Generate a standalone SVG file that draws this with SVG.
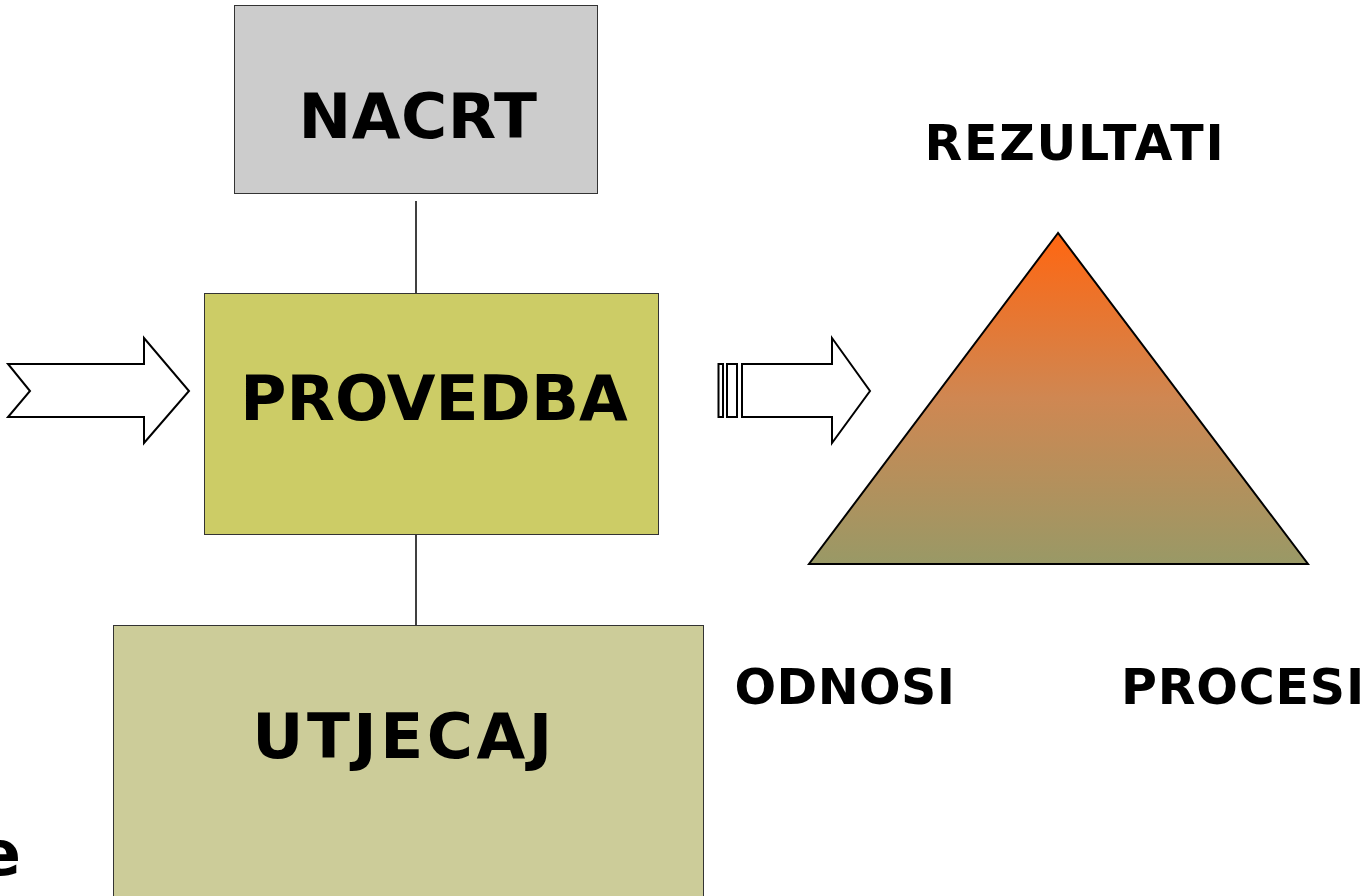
<svg xmlns="http://www.w3.org/2000/svg" width="1371" height="896" viewBox="0 0 1371 896">
<style>
.box{stroke:#333;stroke-width:1}
.lbl{font-family:"DejaVu Sans",Verdana,sans-serif;font-weight:bold;fill:#000}
.big{font-size:63px;text-anchor:middle}
.mid{font-size:49px;text-anchor:middle}
.arr{fill:#fff;stroke:#000;stroke-width:2;stroke-linejoin:miter}
.conn{stroke:#000;stroke-width:1.5;fill:none}
</style>
<defs>
<linearGradient id="tg" x1="0" y1="0" x2="0" y2="1">
<stop offset="0" stop-color="#FF6611"/>
<stop offset="0.5" stop-color="#CF8752"/>
<stop offset="1" stop-color="#999966"/>
</linearGradient>
</defs>
<rect width="1371" height="896" fill="#fff"/>
<g id="connectors">
<line class="conn" x1="416" y1="201" x2="416" y2="293"/>
<line class="conn" x1="416" y1="534" x2="416" y2="625"/>
<polygon id="arrow-in" class="arr" points="8,364 144,364 144,338 189,391 144,443 144,417 8,417 30,391"/>
<g id="arrow-out">
<rect class="arr" x="718.5" y="364" width="4.5" height="53"/>
<rect class="arr" x="727" y="364" width="10" height="53"/>
<polygon class="arr" points="742,364 832,364 832,338 870,391 832,443 832,417 742,417"/>
</g>
</g>
<g id="nacrt">
<rect class="box" x="234.5" y="5.5" width="363" height="188" fill="#CCCCCC"/>
<text class="lbl big" x="418" y="138" letter-spacing="0.5">NACRT</text>
</g>
<g id="provedba">
<rect class="box" x="204.5" y="293.5" width="454" height="241" fill="#CCCC66"/>
<text class="lbl big" x="434" y="420">PROVEDBA</text>
</g>
<g id="utjecaj">
<rect class="box" x="113.5" y="625.5" width="590" height="280" fill="#CCCC99"/>
<text class="lbl big" x="404" y="758" letter-spacing="3.5">UTJECAJ</text>
</g>
<g id="triangle">
<polygon points="1058,233 809,564 1308,564" fill="url(#tg)" stroke="#000" stroke-width="2"/>
<text class="lbl mid" x="1075" y="160" letter-spacing="1.8">REZULTATI</text>
<text class="lbl mid" x="845" y="704" letter-spacing="0.4">ODNOSI</text>
<text class="lbl mid" x="1243" y="704" letter-spacing="0.8">PROCESI</text>
</g>
<text class="lbl" x="21" y="875" font-size="63" text-anchor="end">e</text>
</svg>
